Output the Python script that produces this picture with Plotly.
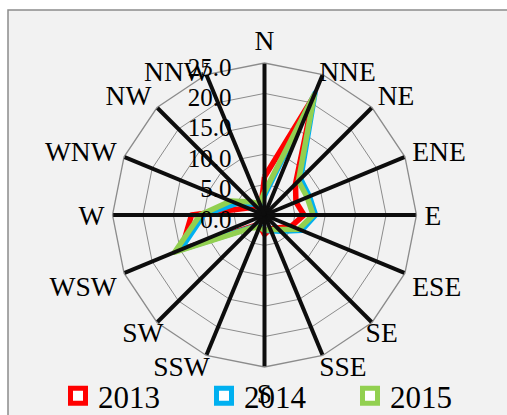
import plotly.graph_objects as go

directions = ["N", "NNE", "NE", "ENE", "E", "ESE", "SE", "SSE",
              "S", "SSW", "SW", "WSW", "W", "WNW", "NW", "NNW"]
y2013 = [6.3, 21.0, 7.2, 5.6, 6.5, 4.8, 3.0, 2.5, 3.2, 2.0, 2.5, 14.8, 12.0, 3.0, 2.0, 1.5]
y2014 = [3.2, 21.7, 8.4, 8.0, 8.4, 6.6, 3.8, 2.8, 2.5, 2.0, 2.8, 15.0, 10.0, 5.0, 2.5, 1.5]
y2015 = [3.8, 21.4, 7.9, 7.6, 8.0, 6.1, 3.4, 2.6, 2.5, 2.2, 3.0, 16.0, 10.6, 6.0, 3.0, 2.0]
series = [("2013", y2013, "#FF0000"), ("2014", y2014, "#00B0F0"), ("2015", y2015, "#92D050")]

# label groups (placed by two label-only angular axes with different standoffs)
labels_outer = ["N", "NE", "ENE", "E", "ESE", "S", "WSW", "W", "WNW", "NW"]
labels_inner = ["NNE", "SE", "SSE", "SSW", "SW", "NNW"]

FONT = "Liberation Serif"
W, H = 507, 415
cx, cy, R = 264.5, 215.0, 152.0


def domain(rad):
    return dict(x=[(cx - rad) / W, (cx + rad) / W],
                y=[(H - cy - rad) / H, (H - cy + rad) / H])


fig = go.Figure()
for name, vals, col in series:
    fig.add_trace(go.Scatterpolar(
        r=vals + vals[:1], theta=directions + directions[:1], mode="lines",
        line=dict(color=col, width=5.5), name=name, showlegend=False,
        hoverinfo="skip", subplot="polar"))
legend_subplots = ["polar2", "polar2", "polar3"]
for (name, vals, col), sp in zip(series, legend_subplots):
    fig.add_trace(go.Scatterpolar(
        r=[None], theta=[None], mode="markers", name=name, showlegend=True,
        subplot=sp,
        marker=dict(symbol="square", size=15, color="white",
                    line=dict(color=col, width=5))))


def label_polar(rad, ticklen, vals):
    return dict(
        domain=domain(rad),
        bgcolor="rgba(0,0,0,0)",
        gridshape="linear",
        angularaxis=dict(
            type="category", categoryarray=directions,
            direction="clockwise", rotation=90,
            tickmode="array", tickvals=vals, ticktext=vals,
            showgrid=False, showline=False, ticks="outside", ticklen=ticklen,
            tickcolor="rgba(0,0,0,0)",
            tickfont=dict(family=FONT, size=27.5, color="black")),
        radialaxis=dict(visible=False, range=[0, 25]),
    )


fig.update_layout(
    width=W, height=H,
    margin=dict(l=0, r=0, t=0, b=0, autoexpand=False),
    paper_bgcolor="white",
    shapes=[dict(type="rect", xref="paper", yref="paper",
                 x0=8 / W, x1=1.05, y0=-0.05, y1=(H - 10) / H,
                 fillcolor="#f2f2f2", line=dict(color="#8c8c8c", width=1.5),
                 layer="below")],
    polar=dict(
        domain=domain(R),
        bgcolor="rgba(0,0,0,0)",
        gridshape="linear",
        angularaxis=dict(
            type="category", categoryarray=directions,
            direction="clockwise", rotation=90,
            showgrid=False, ticks="inside", ticklen=R, tickwidth=4,
            tickcolor="#0d0d0d", layer="above traces",
            showline=True, linecolor="#8c8c8c", linewidth=1.3,
            showticklabels=False),
        radialaxis=dict(
            range=[0, 25], dtick=5, tickformat=".1f", angle=90,
            side="counterclockwise", showline=False,
            gridcolor="#8c8c8c", gridwidth=1.3,
            ticks="outside", ticklen=10, tickcolor="rgba(0,0,0,0)",
            layer="above traces",
            tickfont=dict(family=FONT, size=25, color="black")),
    ),
    polar2=label_polar(R, 2, labels_outer),
    polar3=label_polar(R - 15, 0, labels_inner),
    legend=dict(orientation="h", x=58 / W, y=-8 / H, xanchor="left", yanchor="bottom",
                font=dict(family=FONT, size=31, color="black"),
                entrywidth=101, entrywidthmode="pixels",
                bgcolor="rgba(0,0,0,0)"),
)

post = ("document.body.style.margin='0';document.body.style.overflow='hidden';"
        "document.head.insertAdjacentHTML('beforeend',"
        "'<style>.scatterlayer .js-line{stroke-linejoin:round}</style>');")
fig.write_html("out.html", config={"displayModeBar": False}, post_script=post)
